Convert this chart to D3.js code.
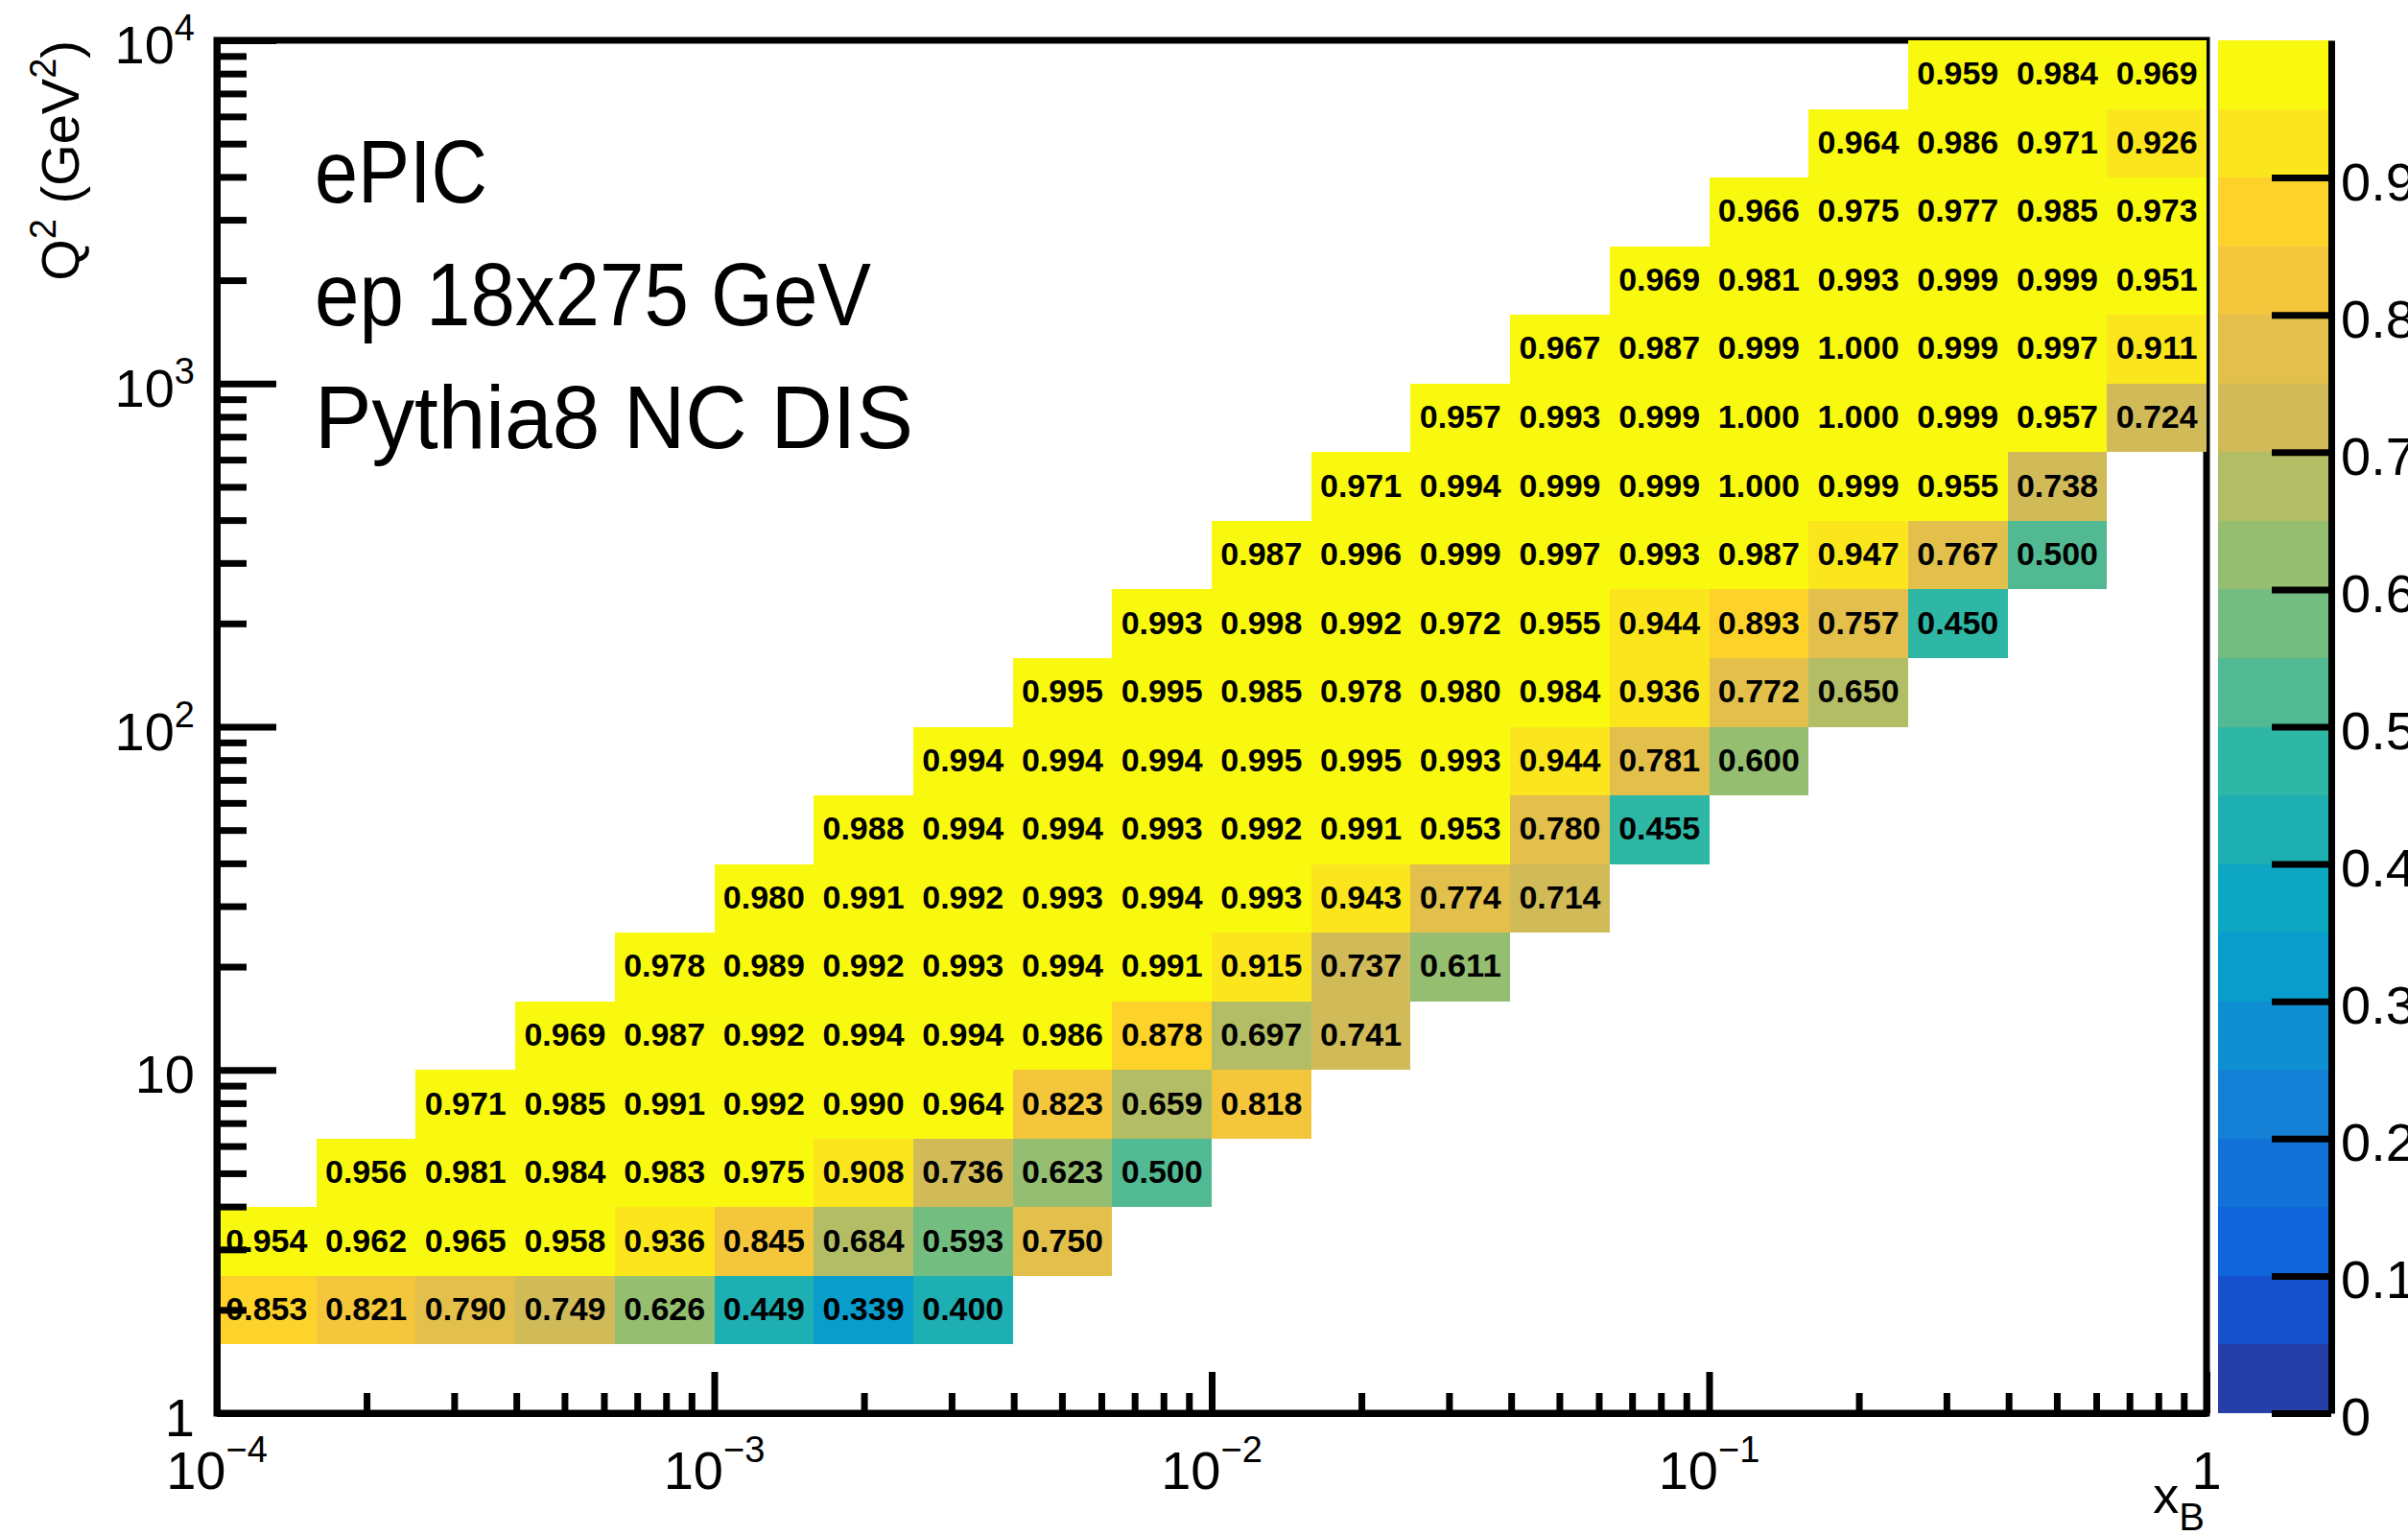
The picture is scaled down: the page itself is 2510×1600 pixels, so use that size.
<!DOCTYPE html>
<html>
<head>
<meta charset="utf-8">
<script src="https://cdn.jsdelivr.net/npm/d3@7"></script>
<style>
    html, body { margin: 0; padding: 0; background: #fff; }
    svg { display: block; }
    text { font-family: "Liberation Sans", Arial, Helvetica, sans-serif; fill: #000; }
</style>
</head>
<body>
<svg id="chart" width="2510" height="1600"></svg>
<script>
'use strict';

// bin edges, log10 of x_B and of Q2 (5 bins per decade)
const xEdgesLog = [-4.0, -3.8, -3.6, -3.4, -3.2, -3.0, -2.8, -2.6, -2.4, -2.2, -2.0,
                   -1.8, -1.6, -1.4, -1.2, -1.0, -0.8, -0.6, -0.4, -0.2, 0.0];
const q2EdgesLog = [0.0, 0.2, 0.4, 0.6, 0.8, 1.0, 1.2, 1.4, 1.6, 1.8, 2.0,
                    2.2, 2.4, 2.6, 2.8, 3.0, 3.2, 3.4, 3.6, 3.8, 4.0];

// first filled x bin for each Q2 row (row index = Q2 bin)
const rowQ2Bin  = [1, 2, 3, 4, 5, 6, 7, 8, 9, 10, 11, 12, 13, 14, 15, 16, 17, 18, 19];
const rowFirstX = [0, 0, 1, 2, 3, 4, 5, 6, 7,  8,  9, 10, 11, 12, 13, 14, 15, 16, 17];

// cell values, one array per Q2 row, bottom to top
const q2Row01 = [0.853, 0.821, 0.790, 0.749, 0.626, 0.449, 0.339, 0.400];
const q2Row02 = [0.954, 0.962, 0.965, 0.958, 0.936, 0.845, 0.684, 0.593, 0.750];
const q2Row03 = [0.956, 0.981, 0.984, 0.983, 0.975, 0.908, 0.736, 0.623, 0.500];
const q2Row04 = [0.971, 0.985, 0.991, 0.992, 0.990, 0.964, 0.823, 0.659, 0.818];
const q2Row05 = [0.969, 0.987, 0.992, 0.994, 0.994, 0.986, 0.878, 0.697, 0.741];
const q2Row06 = [0.978, 0.989, 0.992, 0.993, 0.994, 0.991, 0.915, 0.737, 0.611];
const q2Row07 = [0.980, 0.991, 0.992, 0.993, 0.994, 0.993, 0.943, 0.774, 0.714];
const q2Row08 = [0.988, 0.994, 0.994, 0.993, 0.992, 0.991, 0.953, 0.780, 0.455];
const q2Row09 = [0.994, 0.994, 0.994, 0.995, 0.995, 0.993, 0.944, 0.781, 0.600];
const q2Row10 = [0.995, 0.995, 0.985, 0.978, 0.980, 0.984, 0.936, 0.772, 0.650];
const q2Row11 = [0.993, 0.998, 0.992, 0.972, 0.955, 0.944, 0.893, 0.757, 0.450];
const q2Row12 = [0.987, 0.996, 0.999, 0.997, 0.993, 0.987, 0.947, 0.767, 0.500];
const q2Row13 = [0.971, 0.994, 0.999, 0.999, 1.000, 0.999, 0.955, 0.738];
const q2Row14 = [0.957, 0.993, 0.999, 1.000, 1.000, 0.999, 0.957, 0.724];
const q2Row15 = [0.967, 0.987, 0.999, 1.000, 0.999, 0.997, 0.911];
const q2Row16 = [0.969, 0.981, 0.993, 0.999, 0.999, 0.951];
const q2Row17 = [0.966, 0.975, 0.977, 0.985, 0.973];
const q2Row18 = [0.964, 0.986, 0.971, 0.926];
const q2Row19 = [0.959, 0.984, 0.969];

const rowValues = [q2Row01, q2Row02, q2Row03, q2Row04, q2Row05, q2Row06, q2Row07,
                   q2Row08, q2Row09, q2Row10, q2Row11, q2Row12, q2Row13, q2Row14,
                   q2Row15, q2Row16, q2Row17, q2Row18, q2Row19];

// tick labels
const xTickValues = [1e-4, 1e-3, 1e-2, 1e-1, 1];
const xTickBase   = ['10', '10', '10', '10', '1'];
const xTickExp    = ['\u22124', '\u22123', '\u22122', '\u22121', ''];
const yTickValues = [1, 10, 100, 1000, 10000];
const yTickBase   = ['1', '10', '10', '10', '10'];
const yTickExp    = ['', '', '2', '3', '4'];
const zTickValues = [0, 0.1, 0.2, 0.3, 0.4, 0.5, 0.6, 0.7, 0.8, 0.9];
const textLines   = ['ePIC', 'ep 18x275 GeV', 'Pythia8 NC DIS'];

// ROOT kBird palette
const birdStops = [0.0000, 0.1250, 0.2500, 0.3750, 0.5000, 0.6250, 0.7500, 0.8750, 1.0000];
const birdRed   = [0.2082, 0.0592, 0.0780, 0.0232, 0.1802, 0.5301, 0.8186, 0.9956, 0.9764];
const birdGreen = [0.1664, 0.3599, 0.5041, 0.6419, 0.7178, 0.7492, 0.7328, 0.7862, 0.9832];
const birdBlue  = [0.5293, 0.8684, 0.8385, 0.7914, 0.6425, 0.4662, 0.3499, 0.1968, 0.0539];

const nColours = 255;
const nContours = 20;

function buildPalette() {

    let palette = [];
    for (let g = 1; g < birdStops.length; g++) {
        let nGrad = Math.floor(nColours * birdStops[g]) - Math.floor(nColours * birdStops[g - 1]);
        for (let c = 0; c < nGrad; c++) {
            let r = birdRed[g - 1] + c * (birdRed[g] - birdRed[g - 1]) / nGrad;
            let gr = birdGreen[g - 1] + c * (birdGreen[g] - birdGreen[g - 1]) / nGrad;
            let b = birdBlue[g - 1] + c * (birdBlue[g] - birdBlue[g - 1]) / nGrad;
            palette.push(d3.rgb(r * 255, gr * 255, b * 255).formatHex());
        }
    }
    return palette;
}

const palette = buildPalette();

// same contour -> colour mapping as THistPainter
function bandColour(band) {
    let idx = Math.floor((band + 0.99) * nColours / nContours);
    return palette[Math.min(idx, nColours - 1)];
}

function colourOf(z) {
    let band = Math.floor(0.01 + z * nContours);
    band = Math.max(0, Math.min(nContours - 1, band));
    return bandColour(band);
}

const svg = d3.select('#chart');

const frame = {left: 226, right: 2300, top: 42, bottom: 1473};

const x = d3.scaleLog().domain([1e-4, 1]).range([frame.left, frame.right]);
const y = d3.scaleLog().domain([1, 1e4]).range([frame.bottom, frame.top]);
const z = d3.scaleLinear().domain([0, 1]).range([frame.bottom, frame.top]);

// flatten rows into cells
let cells = [];
rowValues.forEach((vals, r) => {
    vals.forEach((v, k) => {
        let ix = rowFirstX[r] + k;
        let iy = rowQ2Bin[r];
        cells.push({
            x0: Math.pow(10, xEdgesLog[ix]),
            x1: Math.pow(10, xEdgesLog[ix + 1]),
            y0: Math.pow(10, q2EdgesLog[iy]),
            y1: Math.pow(10, q2EdgesLog[iy + 1]),
            v: v
        });
    });
});

// frame box (under the cells)
svg.append('rect')
    .attr('x', frame.left)
    .attr('y', frame.top)
    .attr('width', frame.right - frame.left)
    .attr('height', frame.bottom - frame.top)
    .attr('fill', 'none')
    .attr('stroke', '#000')
    .attr('stroke-width', 7);

// cells
svg.append('g')
    .selectAll('rect')
    .data(cells)
    .join('rect')
    .attr('x', (d) => x(d.x0))
    .attr('y', (d) => y(d.y1))
    .attr('width', (d) => x(d.x1) - x(d.x0))
    .attr('height', (d) => y(d.y0) - y(d.y1))
    .attr('fill', (d) => colourOf(d.v))
    .attr('shape-rendering', 'crispEdges');

// cell texts
svg.append('g')
    .selectAll('text')
    .data(cells)
    .join('text')
    .attr('x', (d) => (x(d.x0) + x(d.x1)) / 2)
    .attr('y', (d) => (y(d.y0) + y(d.y1)) / 2 + 10.5)
    .attr('text-anchor', 'middle')
    .attr('font-size', 33)
    .attr('font-weight', 'bold')
    .attr('textLength', 85)
    .attr('lengthAdjust', 'spacingAndGlyphs')
    .text((d) => d.v.toFixed(3));

// minor ticks from the log scales themselves
const isDecade = (v) => Math.abs(Math.log10(v) - Math.round(Math.log10(v))) < 1e-9;
const xMinor = x.ticks().filter((v) => !isDecade(v));
const yMinor = y.ticks().filter((v) => !isDecade(v));

function styleAxis(g) {
    g.selectAll('line').attr('stroke', '#000').attr('stroke-width', 7);
    g.selectAll('path').attr('stroke', '#000').attr('stroke-width', 7);
    g.selectAll('text').remove();
}

// y axis
svg.append('g')
    .attr('transform', `translate(${frame.left},0)`)
    .call(d3.axisLeft(y).tickValues(yMinor).tickSizeInner(-31).tickSizeOuter(0).tickFormat(''))
    .call(styleAxis);
svg.append('g')
    .attr('transform', `translate(${frame.left},0)`)
    .call(d3.axisLeft(y).tickValues(yTickValues).tickSizeInner(-62).tickSizeOuter(0).tickFormat(''))
    .call(styleAxis);

// x axis
svg.append('g')
    .attr('transform', `translate(0,${frame.bottom})`)
    .call(d3.axisBottom(x).tickValues(xMinor).tickSizeInner(-21).tickSizeOuter(0).tickFormat(''))
    .call(styleAxis);
svg.append('g')
    .attr('transform', `translate(0,${frame.bottom})`)
    .call(d3.axisBottom(x).tickValues(xTickValues).tickSizeInner(-43).tickSizeOuter(0).tickFormat(''))
    .call(styleAxis);

// y tick labels
let yLab = svg.append('g')
    .selectAll('text')
    .data(yTickValues)
    .join('text')
    .attr('x', 203)
    .attr('y', (d) => y(d) + 24)
    .attr('text-anchor', 'end')
    .attr('font-size', 56);
yLab.append('tspan').text((d, i) => yTickBase[i]);
yLab.append('tspan')
    .attr('font-size', 38)
    .attr('dy', -24)
    .text((d, i) => yTickExp[i]);

// x tick labels
let xLab = svg.append('g')
    .selectAll('text')
    .data(xTickValues)
    .join('text')
    .attr('x', (d) => x(d))
    .attr('y', 1552)
    .attr('text-anchor', 'middle')
    .attr('font-size', 56);
xLab.append('tspan').text((d, i) => xTickBase[i]);
xLab.append('tspan')
    .attr('font-size', 38)
    .attr('dy', -28)
    .text((d, i) => xTickExp[i]);

// axis titles
let yTitle = svg.append('text')
    .attr('transform', `translate(82,${frame.top}) rotate(-90)`)
    .attr('text-anchor', 'end')
    .attr('font-size', 56);
yTitle.append('tspan').text('Q');
yTitle.append('tspan').attr('font-size', 38).attr('dy', -24).text('2');
yTitle.append('tspan').attr('dy', 24).text(' (GeV');
yTitle.append('tspan').attr('font-size', 38).attr('dy', -24).text('2');
yTitle.append('tspan').attr('dy', 24).text(')');

let xTitle = svg.append('text')
    .attr('x', 2298)
    .attr('y', 1577)
    .attr('text-anchor', 'end')
    .attr('font-size', 54);
xTitle.append('tspan').text('x');
xTitle.append('tspan').attr('font-size', 40).attr('dy', 18).text('B');

// colour bar
const bands = d3.range(nContours);
svg.append('g')
    .selectAll('rect')
    .data(bands)
    .join('rect')
    .attr('x', 2312)
    .attr('y', (d) => z((d + 1) / nContours))
    .attr('width', 118)
    .attr('height', (d) => z(d / nContours) - z((d + 1) / nContours))
    .attr('fill', (d) => bandColour(d))
    .attr('shape-rendering', 'crispEdges');

let zAxis = svg.append('g')
    .attr('transform', 'translate(2430,0)')
    .call(d3.axisRight(z).tickValues(zTickValues).tickSizeInner(-62).tickSizeOuter(0).tickPadding(10)
        .tickFormat((d) => d === 0 ? '0' : d3.format('.1f')(d)));
zAxis.selectAll('line').attr('stroke', '#000').attr('stroke-width', 7);
zAxis.selectAll('path').attr('stroke', '#000').attr('stroke-width', 7);
zAxis.selectAll('text')
    .attr('font-size', 56)
    .attr('font-family', '"Liberation Sans", Arial, Helvetica, sans-serif')
    .attr('dy', '0.41em')
    .attr('fill', '#000');

// legend text block
const textWidths = [180, 580, 624];
svg.append('g')
    .selectAll('text')
    .data(textLines)
    .join('text')
    .attr('x', 328)
    .attr('y', (d, i) => 211 + i * 128)
    .attr('font-family', 'Lato, "Open Sans", sans-serif')
    .attr('font-size', 92)
    .attr('textLength', (d, i) => textWidths[i])
    .attr('lengthAdjust', 'spacingAndGlyphs')
    .text((d) => d);
</script>
</body>
</html>
